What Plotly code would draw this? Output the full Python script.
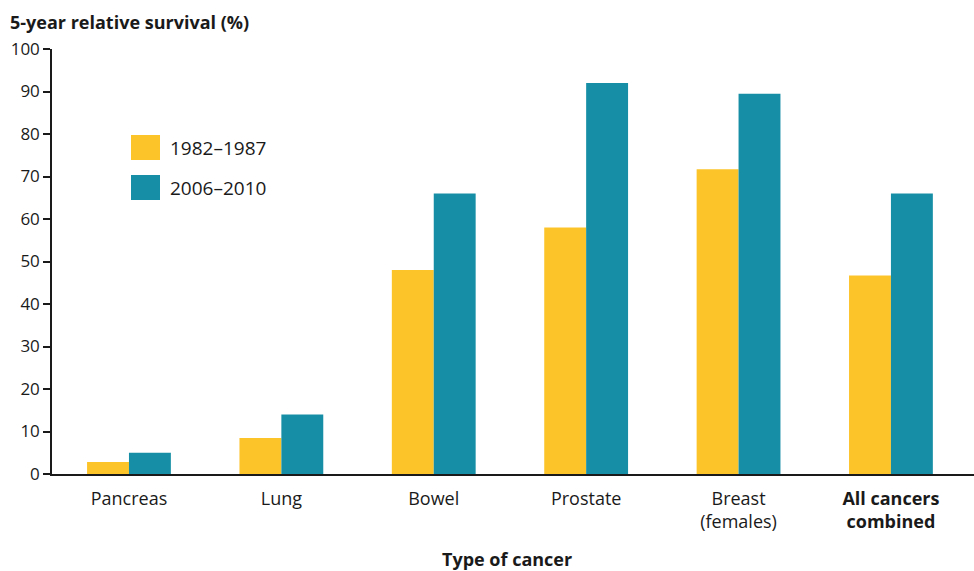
import plotly.graph_objects as go

categories = ["Pancreas", "Lung", "Bowel", "Prostate", "Breast<br>(females)", "<b>All cancers<br>combined</b>"]
series_names = ["1982\u20131987", "2006\u20132010"]
values_1982 = [2.8, 8.5, 48.0, 58.0, 71.7, 46.7]
values_2006 = [5.0, 14.0, 66.0, 92.0, 89.5, 66.0]
y_ticks = [0, 10, 20, 30, 40, 50, 60, 70, 80, 90, 100]

YELLOW = "#FDC42A"
TEAL = "#168FA6"
FONT = "Open Sans"

x_idx = list(range(len(categories)))

fig = go.Figure()
fig.add_trace(go.Bar(x=x_idx, y=values_1982, name=series_names[0], marker=dict(color=YELLOW, line=dict(width=0)), showlegend=False))
fig.add_trace(go.Bar(x=x_idx, y=values_2006, name=series_names[1], marker=dict(color=TEAL, line=dict(width=0)), showlegend=False))

fig.update_layout(
    width=974, height=571,
    margin=dict(l=52, r=0, t=49, b=97),
    paper_bgcolor="white", plot_bgcolor="white",
    barmode="group", bargap=0.45, bargroupgap=0,
    font=dict(family=FONT, size=16, color="#1a1a1a"),
    xaxis=dict(
        tickmode="array", tickvals=x_idx, ticktext=categories,
        range=[-0.505, 5.545], showgrid=False, zeroline=False,
        showline=True, linecolor="#1a1a1a", linewidth=2,
        ticks="outside", ticklen=7, tickcolor="rgba(0,0,0,0)",
        tickfont=dict(size=18),
    ),
    yaxis=dict(
        tickmode="array", tickvals=y_ticks, range=[0, 100],
        showgrid=False, zeroline=False,
        showline=True, linecolor="#1a1a1a", linewidth=1.5,
        ticks="outside", ticklen=7, tickwidth=1.5, tickcolor="#1a1a1a",
        tickfont=dict(size=17),
    ),
)

# y title (top-left) and x title
fig.add_annotation(text="<b>5-year relative survival (%)</b>", xref="paper", yref="paper",
                   x=-44/922, y=1 + 27/425, xanchor="left", yanchor="middle", showarrow=False,
                   font=dict(size=18))
fig.add_annotation(text="<b>Type of cancer</b>", xref="paper", yref="paper",
                   x=(507-52)/922, y=-(559-474)/425, xanchor="center", yanchor="middle", showarrow=False,
                   font=dict(size=18))

# manual legend
pw, ph = 922, 425
def px_x(v):
    return (v - 52) / pw
def px_y(v):
    return (474 - v) / ph

for i, (name, col) in enumerate(zip(series_names, [YELLOW, TEAL])):
    top = 135 + i * 40
    fig.add_shape(type="rect", xref="paper", yref="paper",
                  x0=px_x(131), x1=px_x(160), y0=px_y(top + 25), y1=px_y(top),
                  fillcolor=col, line=dict(width=0))
    fig.add_annotation(text=name, xref="paper", yref="paper",
                       x=px_x(168), y=px_y(top + 12.5), xanchor="left", yanchor="middle",
                       showarrow=False, font=dict(size=19))

fig.write_html("out.html", config={"displayModeBar": False},
               post_script="document.body.style.margin='0px';document.body.style.padding='0px';")
